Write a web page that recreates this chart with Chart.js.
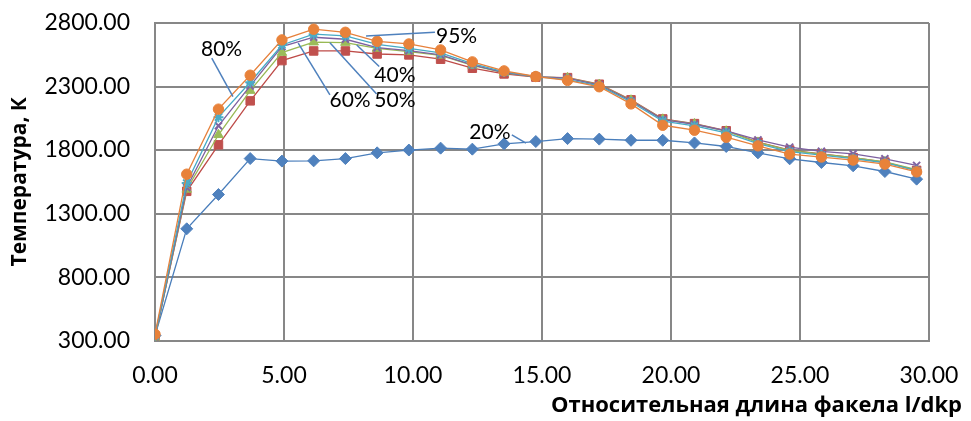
<!DOCTYPE html>
<html>
<head>
<meta charset="utf-8">
<script src="https://cdn.jsdelivr.net/npm/chart.js@4.4.1/dist/chart.umd.min.js"></script>
<style>
  html, body { margin: 0; padding: 0; background: #ffffff; }
  canvas { display: block; }
</style>
</head>
<body>
<canvas id="chart" width="971" height="421"></canvas>
<script>
// Relative torch length l/dkp at each measurement section
const lengthRatio = [0, 1.23, 2.46, 3.69, 4.92, 6.15, 7.38, 8.61, 9.84, 11.07, 12.30, 13.53,
  14.76, 15.99, 17.22, 18.45, 19.68, 20.91, 22.14, 23.37, 24.60, 25.83, 27.06, 28.29, 29.52];

// Temperature, K, for each regime
const temp20 = [340, 1180, 1450, 1733, 1713, 1715, 1733, 1778, 1800, 1815, 1807, 1849,
  1867, 1890, 1886, 1877, 1877, 1856, 1828, 1778, 1731, 1702, 1676, 1631, 1571];
const temp40 = [335, 1475, 1841, 2187, 2504, 2580, 2580, 2556, 2549, 2515, 2444, 2399,
  2374, 2370, 2318, 2195, 2045, 2008, 1952, 1862, 1800, 1770, 1740, 1705, 1640];
const temp50 = [322, 1490, 1920, 2268, 2567, 2649, 2646, 2600, 2575, 2545, 2466, 2408,
  2376, 2368, 2315, 2192, 2042, 2005, 1948, 1860, 1797, 1768, 1740, 1707, 1645];
const temp60 = [326, 1505, 1991, 2305, 2614, 2688, 2672, 2606, 2582, 2549, 2470, 2410,
  2377, 2366, 2312, 2188, 2040, 2003, 1950, 1880, 1823, 1790, 1770, 1731, 1679];
const temp80 = [336, 1540, 2059, 2334, 2627, 2712, 2698, 2632, 2600, 2565, 2480, 2415,
  2378, 2355, 2305, 2178, 2028, 1990, 1935, 1850, 1788, 1760, 1733, 1700, 1638];
const temp95 = [350, 1610, 2122, 2389, 2667, 2751, 2727, 2656, 2635, 2588, 2494, 2423,
  2379, 2348, 2298, 2163, 1995, 1956, 1901, 1833, 1768, 1745, 1721, 1689, 1628];

const seriesNames = ['20%', '40%', '50%', '60%', '80%', '95%'];
const seriesValues = [temp20, temp40, temp50, temp60, temp80, temp95];

// Axis tick labels
const xTickValues = [0, 5, 10, 15, 20, 25, 30];
const yTickValues = [300, 800, 1300, 1800, 2300, 2800];

const xTitle = 'Относительная длина факела l/dkp';
const yTitle = 'Температура, К';

// Series appearance
const seriesStyle = [
  { color: '#4A7EBB', fill: '#4F81BD', marker: 'rectRot',  radius: 6 },
  { color: '#BE4B48', fill: '#C0504D', marker: 'rect',     radius: 6 },
  { color: '#98B954', fill: '#9BBB59', marker: 'triangle', radius: 5.5 },
  { color: '#7D60A0', fill: '#8064A2', marker: 'crossRot', radius: 5 },
  { color: '#46AAC5', fill: '#4BACC6', marker: 'star',     radius: 5 },
  { color: '#E6813C', fill: '#E8823A', marker: 'circle',   radius: 5.2 }
];

// Series callouts: label text, label centre and leader line ends, in axis units
const callouts = [
  { text: '80%', at: [2.58, 2593], from: [2.20, 2523], to: [3.02, 2221] },
  { text: '60%', at: [7.56, 2195], from: [6.78, 2234], to: [5.55, 2641] },
  { text: '50%', at: [9.30, 2195], from: [8.59, 2242], to: [6.78, 2645] },
  { text: '40%', at: [9.30, 2391], from: [8.69, 2457], to: [7.82, 2627] },
  { text: '95%', at: [11.69, 2692], from: [10.85, 2727], to: [8.18, 2698] },
  { text: '20%', at: [12.98, 1938], from: [13.83, 1920], to: [14.38, 1854] }
];

const FONT = 'Lato, "Liberation Sans", sans-serif';
const TITLE_FONT = '"Open Sans", Lato, sans-serif';
const GRID = '#878787';

const calloutPlugin = {
  id: 'callouts',
  afterDatasetsDraw(chart) {
    const { ctx, scales: { x, y } } = chart;
    ctx.save();
    ctx.strokeStyle = '#4F81BD';
    ctx.lineWidth = 1.5;
    callouts.forEach(c => {
      ctx.beginPath();
      ctx.moveTo(x.getPixelForValue(c.from[0]), y.getPixelForValue(c.from[1]));
      ctx.lineTo(x.getPixelForValue(c.to[0]), y.getPixelForValue(c.to[1]));
      ctx.stroke();
    });
    ctx.fillStyle = '#000000';
    ctx.font = '21px ' + FONT;
    ctx.textAlign = 'center';
    ctx.textBaseline = 'middle';
    callouts.forEach(c => {
      ctx.fillText(c.text, x.getPixelForValue(c.at[0]), y.getPixelForValue(c.at[1]));
    });
    ctx.restore();
  }
};

const datasets = seriesNames.map((name, s) => ({
  label: name,
  data: lengthRatio.map((v, i) => ({ x: v, y: seriesValues[s][i] })),
  showLine: true,
  borderColor: seriesStyle[s].color,
  backgroundColor: seriesStyle[s].fill,
  borderWidth: 1.3,
  pointStyle: seriesStyle[s].marker,
  pointRadius: seriesStyle[s].radius,
  pointHoverRadius: seriesStyle[s].radius,
  pointBorderColor: seriesStyle[s].fill,
  pointBackgroundColor: seriesStyle[s].fill,
  pointBorderWidth: seriesStyle[s].marker === 'crossRot' || seriesStyle[s].marker === 'star' ? 2 : 1,
  order: seriesNames.length - 1 - s
}));

function build() {
  new Chart(document.getElementById('chart'), {
    type: 'scatter',
    data: { datasets },
    plugins: [calloutPlugin],
    options: {
      responsive: false,
      animation: false,
      events: [],
      layout: { padding: { left: 0, right: 9, top: 23, bottom: 2 } },
      plugins: {
        legend: { display: false },
        tooltip: { enabled: false },
        title: {
          display: true,
          text: xTitle,
          position: 'bottom',
          align: 'end',
          color: '#000000',
          font: { family: TITLE_FONT, size: 22, weight: 'bold' },
          padding: { top: 0, bottom: 0 }
        }
      },
      scales: {
        x: {
          type: 'linear',
          min: 0,
          max: 30,
          afterBuildTicks: s => { s.ticks = xTickValues.map(v => ({ value: v })); },
          afterFit: s => { s.paddingRight = 42; s.height = 52; },
          grid: { color: GRID, lineWidth: 2, drawTicks: false },
          border: { color: GRID, width: 2 },
          ticks: {
            color: '#000000',
            font: { family: FONT, size: 23 },
            padding: 21,
            maxRotation: 0,
            callback: v => Number(v).toFixed(2)
          }
        },
        y: {
          type: 'linear',
          min: 300,
          max: 2800,
          afterBuildTicks: s => { s.ticks = yTickValues.map(v => ({ value: v })); },
          afterFit: s => { s.width = 155; s.paddingTop = 0; s.paddingBottom = 0; },
          grid: { color: GRID, lineWidth: 2, drawTicks: false },
          border: { color: GRID, width: 2 },
          title: {
            display: true,
            text: yTitle,
            color: '#000000',
            font: { family: TITLE_FONT, size: 21, weight: 'bold' },
            padding: { top: 7, bottom: 0 }
          },
          ticks: {
            color: '#000000',
            font: { family: FONT, size: 23 },
            padding: 25,
            callback: v => Number(v).toFixed(2)
          }
        }
      }
    }
  });
}

if (document.fonts && document.fonts.load) {
  Promise.all([
    document.fonts.load('23px Lato'),
    document.fonts.load('bold 22px "Open Sans"')
  ]).then(build, build);
} else {
  build();
}
</script>
</body>
</html>
